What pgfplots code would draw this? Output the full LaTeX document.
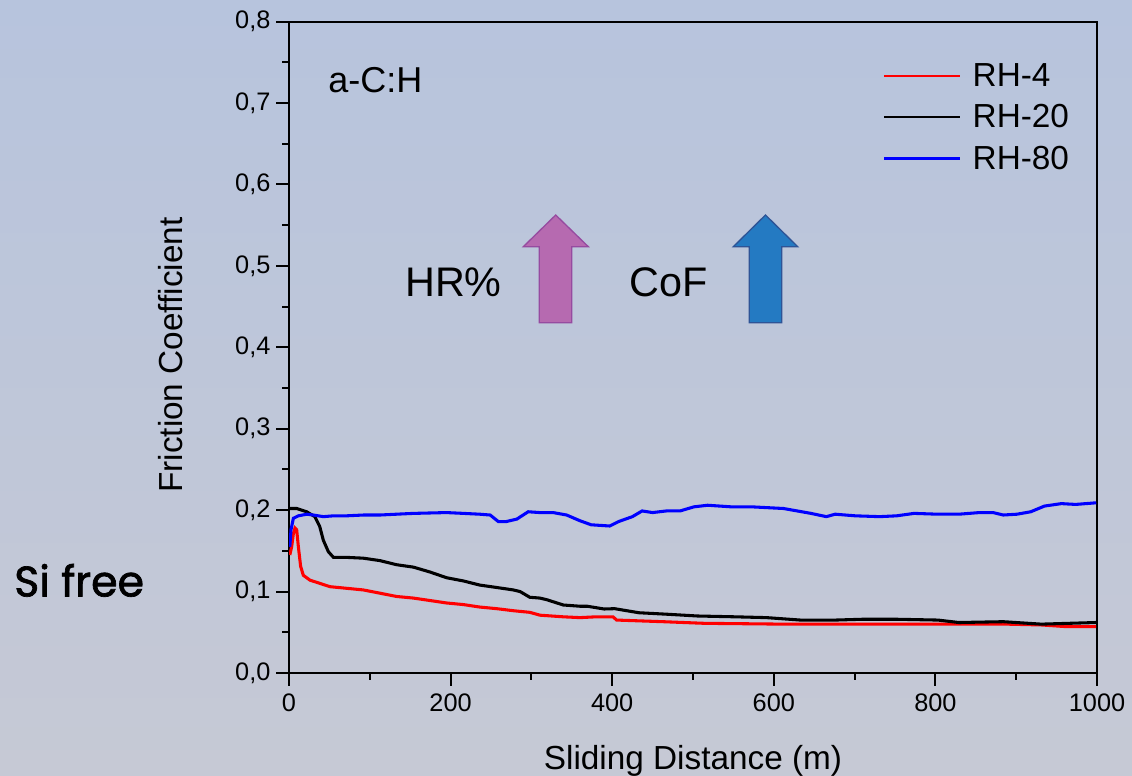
\documentclass[border=0pt]{standalone}
\usepackage{fontspec}
\setmainfont{Liberation Sans}
\newfontfamily\popfont{Poppins}[FakeBold=1.6]
\usepackage{pgfplots}
\pgfplotsset{compat=1.18}
\definecolor{bgtop}{RGB}{183,196,221}
\definecolor{bgmid}{RGB}{170,190,228}
\definecolor{bgbot}{RGB}{198,201,213}
\definecolor{arrP}{RGB}{182,106,176}
\definecolor{arrPd}{RGB}{150,75,160}
\definecolor{arrB}{RGB}{36,122,194}
\definecolor{arrBd}{RGB}{46,84,150}
\begin{document}
\begin{tikzpicture}
\shade[top color=bgtop, middle color=bgmid, bottom color=bgbot] (0,0) rectangle (849pt,581.25pt);
\begin{axis}[
  at={(216.75pt,76.5pt)}, anchor=south west,
  scale only axis, width=606pt, height=488.6pt,
  xmin=0, xmax=1000, ymin=0, ymax=0.8,
  xtick={0,200,...,1000}, minor x tick num=1,
  ytick={0,0.1,...,0.8}, minor y tick num=1,
  xtick pos=bottom, ytick pos=left, tick align=outside,
  major tick length=9.4pt, minor tick length=4.9pt,
  every tick/.style={black, line width=1.5pt},
  axis line style={line width=1.5pt},
  /pgf/number format/assume math mode=true,
  ticklabel style={font=\fontsize{19}{22}\selectfont},
  xticklabel style={/pgf/number format/1000 sep={}, yshift=-3pt},
  yticklabel style={/pgf/number format/.cd, use comma, fixed, fixed zerofill, precision=1, /tikz/.cd, xshift=-1pt},
  xlabel={Sliding Distance (m)},
  ylabel={Friction Coefficient},
  label style={font=\fontsize{25}{30}\selectfont},
  xlabel style={at={(axis description cs:0.5,-0.1474)}, anchor=base},
  ylabel style={at={(axis description cs:-0.1312,0.488)}, anchor=base},
  legend style={at={(axis description cs:0.735,0.94)}, anchor=north west, draw=none, fill=none,
    font=\fontsize{25}{30}\selectfont, row sep=8pt, inner sep=0pt},
  legend cell align=left,
  legend image code/.code={\draw[#1, line width=2pt] (0pt,0pt) -- (57pt,0pt); \path (63pt,0pt);},
]
\addplot[red, line width=2.3pt] coordinates {
(1,0.145) (3.3,0.155) (5.4,0.171) (7.4,0.178) (9.5,0.176) (11.6,0.155) (14.4,0.131) (17.7,0.120)
(26,0.114) (38.4,0.110) (50.7,0.106) (71.4,0.104) (92,0.102) (112.6,0.098) (133,0.094) (154,0.092)
(174.5,0.089) (195,0.086) (216,0.084) (236,0.081) (257,0.079) (277.6,0.0765) (298,0.0745) (310.6,0.071)
(339.5,0.069) (360,0.068) (380,0.069) (401,0.069) (405.5,0.065) (463,0.063) (514,0.061) (612,0.060)
(718,0.060) (803,0.060) (888,0.060) (931,0.059) (961,0.057) (999,0.057)
};
\addlegendentry{RH-4}
\addplot[black, line width=2.3pt] coordinates {
(1,0.202) (9.5,0.202) (21.9,0.198) (32,0.192) (38,0.180) (42.5,0.163) (48.7,0.149) (55,0.142)
(71,0.142) (92,0.141) (112.6,0.138) (133,0.133) (154,0.130) (174.5,0.124) (195,0.117) (216,0.113)
(236,0.108) (257,0.105) (277.6,0.102) (286,0.100) (298,0.093) (310.6,0.092) (319,0.090) (339.5,0.0835)
(360,0.082) (369,0.082) (390,0.0786) (403,0.079) (433,0.074) (471,0.072) (505.5,0.070) (552,0.069)
(591,0.068) (633,0.065) (676,0.065) (710,0.066) (752,0.066) (803,0.065) (829,0.062) (884,0.063)
(931,0.060) (965,0.061) (999,0.062)
};
\addlegendentry{RH-20}
\addplot[blue, line width=2.3pt] coordinates {
(1,0.155) (2.5,0.176) (5.4,0.190) (11.6,0.193) (22,0.195) (30,0.194) (42.5,0.192) (55,0.193)
(71,0.193) (92,0.194) (112.6,0.194) (133,0.195) (154,0.196) (174.5,0.1965) (195,0.197) (216,0.196)
(236,0.195) (249,0.194) (259,0.186) (269,0.186) (282,0.189) (296,0.198) (310.6,0.197) (327,0.197)
(343.6,0.194) (360,0.187) (374,0.182) (397,0.1805) (408,0.186) (425,0.192) (437,0.199) (450,0.197)
(467,0.199) (484,0.199) (501,0.204) (518,0.206) (548,0.204) (573.5,0.204) (612,0.202) (629,0.199)
(646,0.196) (665,0.192) (676,0.195) (701,0.193) (731,0.192) (752,0.193) (773.6,0.196) (803,0.195)
(829,0.195) (854.4,0.197) (871.4,0.197) (884,0.194) (901,0.195) (918,0.198) (935,0.205) (956,0.208)
(973.5,0.207) (999,0.209)
};
\addlegendentry{RH-80}
\draw[fill=arrP, draw=arrPd, line width=1pt] (axis cs:309.8,0.4301) -- (axis cs:309.8,0.5235) -- (axis cs:290,0.5235) -- (axis cs:330.1,0.5624) -- (axis cs:370.4,0.5235) -- (axis cs:349.9,0.5235) -- (axis cs:349.9,0.4301) -- cycle;
\draw[fill=arrB, draw=arrBd, line width=1pt] (axis cs:569.7,0.4301) -- (axis cs:569.7,0.5235) -- (axis cs:549.9,0.5235) -- (axis cs:589.7,0.5624) -- (axis cs:629.6,0.5235) -- (axis cs:609.8,0.5235) -- (axis cs:609.8,0.4301) -- cycle;
\node[anchor=base west, inner sep=0pt, font=\fontsize{31}{36}\selectfont] at (axis cs:143.6,0.462) {HR\%};
\node[anchor=base west, inner sep=0pt, font=\fontsize{31}{36}\selectfont] at (axis cs:421.2,0.462) {CoF};
\node[anchor=base west, inner sep=0pt, font=\fontsize{27}{32}\selectfont] at (axis cs:48.3,0.7134) {a-C:H};
\end{axis}
\node[anchor=base west, inner sep=0pt, font=\popfont\fontsize{32}{38}\selectfont] at (10.5pt,133.9pt) {Si free};
\pgfresetboundingbox
\path (0,0) rectangle (849pt,581.25pt);
\end{tikzpicture}
\end{document}
